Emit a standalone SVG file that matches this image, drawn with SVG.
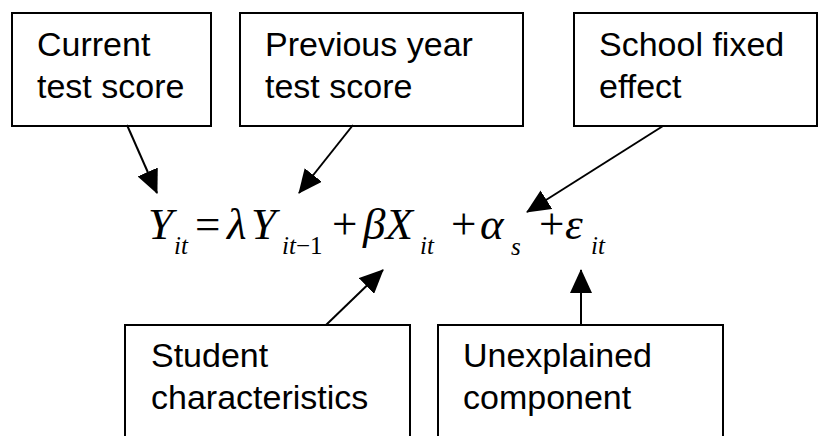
<svg xmlns="http://www.w3.org/2000/svg" width="818" height="436" viewBox="0 0 818 436">
<style>
.box{fill:#fff;stroke:#000;stroke-width:2}
.lbl{font-family:"Liberation Sans",Arial,sans-serif;font-size:34px;fill:#000}
.conn{stroke:#000;stroke-width:2;fill:none}
.m{font-family:"Liberation Serif","Times New Roman",serif;font-size:45px;font-style:italic;fill:#000}
.mu{font-family:"Liberation Serif","Times New Roman",serif;font-size:45px;fill:#000}
.s{font-family:"Liberation Serif","Times New Roman",serif;font-size:25px;font-style:italic;fill:#000}
.su{font-family:"Liberation Serif","Times New Roman",serif;font-size:25px;fill:#000}
</style>
<defs>
<marker id="ah" markerWidth="24" markerHeight="22" refX="23" refY="11" orient="auto" markerUnits="userSpaceOnUse">
<path d="M0,0 L24,11 L0,22 z" fill="#000"/>
</marker>
</defs>
<rect width="818" height="436" fill="#fff"/>
<g id="current">
<rect class="box" x="12" y="13" width="199" height="113"/>
<text class="lbl" x="37" y="56">Current</text>
<text class="lbl" x="37" y="98">test score</text>
</g>
<g id="previous">
<rect class="box" x="240" y="13" width="283" height="113"/>
<text class="lbl" x="265" y="56">Previous year</text>
<text class="lbl" x="265" y="98">test score</text>
</g>
<g id="school">
<rect class="box" x="574" y="13" width="243" height="113"/>
<text class="lbl" x="599" y="56">School fixed</text>
<text class="lbl" x="599" y="98">effect</text>
</g>
<g id="student">
<rect class="box" x="125" y="325" width="285" height="130"/>
<text class="lbl" x="151" y="367">Student</text>
<text class="lbl" x="151" y="409">characteristics</text>
</g>
<g id="unexplained">
<rect class="box" x="438" y="325" width="285" height="130"/>
<text class="lbl" x="463" y="367">Unexplained</text>
<text class="lbl" x="463" y="409">component</text>
</g>
<g id="equation">
<text class="m" x="148" y="239">Y</text>
<text class="s" x="174" y="254">it</text>
<text class="mu" x="195" y="239">=</text>
<text class="m" x="227" y="239">λ</text>
<text class="m" x="251" y="239">Y</text>
<text class="s" x="282" y="254">it<tspan class="su" font-style="normal">−1</tspan></text>
<text class="mu" x="332" y="239">+</text>
<text class="m" x="363" y="239">βX</text>
<text class="s" x="420" y="254">it</text>
<text class="mu" x="451" y="239">+</text>
<text class="m" x="480" y="239">α</text>
<text class="s" x="511" y="255">s</text>
<text class="mu" x="539" y="239">+</text>
<text class="m" x="565" y="239">ε</text>
<text class="s" x="591" y="254">it</text>
</g>
<g id="connectors">
<line class="conn" x1="127" y1="125" x2="157" y2="193" marker-end="url(#ah)"/>
<line class="conn" x1="353" y1="125" x2="299" y2="193" marker-end="url(#ah)"/>
<line class="conn" x1="663" y1="126" x2="527" y2="212" marker-end="url(#ah)"/>
<line class="conn" x1="326" y1="325" x2="383" y2="270" marker-end="url(#ah)"/>
<line class="conn" x1="581" y1="325" x2="581" y2="270" marker-end="url(#ah)"/>
</g>
</svg>
